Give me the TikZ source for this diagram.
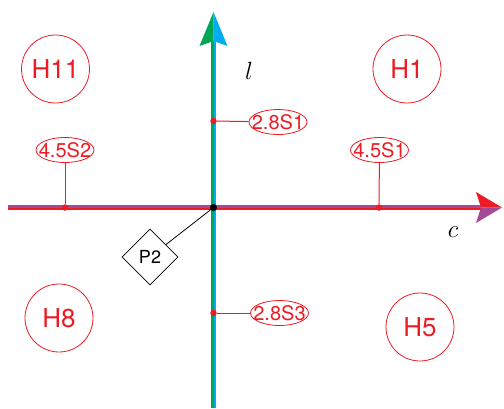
\documentclass[tikz,border=0pt]{standalone}
\usepackage{fontspec}
\setsansfont{TeX Gyre Heros}
\usetikzlibrary{shapes.geometric}
\definecolor{axred}{RGB}{237,28,36}
\definecolor{axpurple}{RGB}{163,73,150}
\definecolor{axgreen}{RGB}{0,166,81}
\definecolor{axcyan}{RGB}{0,174,239}
\begin{document}
\begin{tikzpicture}[x=1pt,y=-1pt,
  hcirc/.style={circle,draw=axred,line width=0.8pt,text=axred,minimum size=68pt,inner sep=0pt,font=\sffamily\fontsize{26}{26}\selectfont},
  lbl/.style={ellipse,draw=axred,line width=0.8pt,text=axred,inner xsep=-6pt,inner ysep=1pt,minimum width=58pt,minimum height=25pt,font=\sffamily\fontsize{20}{20}\selectfont},
  rdot/.style={circle,fill=axred,inner sep=0pt,minimum size=6.5pt},
  link/.style={draw=axred,line width=1pt},
  half/.style={line width=2.6pt}]
\useasboundingbox (0,0) rectangle (504,408);
% horizontal axis
\coordinate (hl) at (8,207.5);
\coordinate (hr) at (481,207.5);
\coordinate (htip) at (502,207.5);
\draw[half,axred] ([yshift=-1.3pt]hl) -- ([yshift=-1.3pt]hr);
\draw[half,axpurple] ([yshift=1.3pt]hl) -- ([yshift=1.3pt]hr);
\fill[axred] (htip) -- (476,192) -- (hr) -- cycle;
\fill[axpurple] (htip) -- (476,223) -- (hr) -- cycle;
% vertical axis
\coordinate (vb) at (213.5,408);
\coordinate (vt) at (213.5,41);
\coordinate (vtip) at (213.5,12);
\draw[half,axgreen] ([xshift=-1.3pt]vb) -- ([xshift=-1.3pt]vt);
\draw[half,axcyan] ([xshift=1.3pt]vb) -- ([xshift=1.3pt]vt);
\fill[axgreen] (vtip) -- (199.5,46) -- (vt) -- cycle;
\fill[axcyan] (vtip) -- (227.5,46) -- (vt) -- cycle;
% axis labels
\node (ll) at (249,71) {\fontsize{25}{25}\selectfont$l$};
\node (cl) at (453,232) {\fontsize{24}{24}\selectfont$c$};
% regions
\node[hcirc] (h11) at (55.5,69) {H11};
\node[hcirc] (h1) at (407,69) {H1};
\node[hcirc] (h8) at (59,318) {H8};
\node[hcirc] (h5) at (420,327) {H5};
% points
\node[rdot] (d2) at (65,207.5) {};
\node[rdot] (d1) at (379,207.5) {};
\node[rdot] (e1) at (213.5,121) {};
\node[rdot] (e3) at (213.5,313) {};
\node[lbl] (s2) at (65,150) {4.5S2};
\node[lbl] (s1) at (379.5,150) {4.5S1};
\node[lbl] (t1) at (278,122) {2.8S1};
\node[lbl] (t3) at (279.5,313) {2.8S3};
\draw[link] (s2) -- (d2);
\draw[link] (s1) -- (d1);
\draw[link] (t1) -- (e1);
\draw[link] (t3) -- (e3);
% origin and P2
\node[circle,fill=black,inner sep=0pt,minimum size=7pt] (o) at (213.5,207.5) {};
\node[diamond,draw=black,line width=0.8pt,minimum size=56pt,inner sep=0pt,font=\sffamily\fontsize{18}{18}\selectfont] (p2) at (150,257) {P2};
\draw[black,line width=0.8pt] (p2) -- (o.center);
\end{tikzpicture}
\end{document}
